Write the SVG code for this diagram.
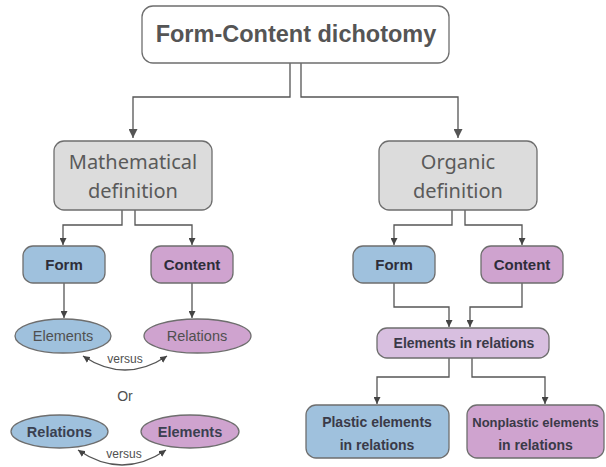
<svg xmlns="http://www.w3.org/2000/svg" width="606" height="467" viewBox="0 0 606 467">
<style>
.bx{stroke:#6e6e6e;stroke-width:1.3}
.white{fill:#ffffff}
.grey{fill:#dcdcdc}
.blue{fill:#9fc1dd}
.pink{fill:#cfa3cf}
.lav{fill:#d8bfe0}
.ln{fill:none;stroke:#555555;stroke-width:1.3}
.t{font-family:"Liberation Sans",Arial,sans-serif;text-anchor:middle}
.b{font-weight:bold}
.def{font-family:"Noto Sans","Open Sans",sans-serif;font-size:20px;fill:#5a5a5a;text-anchor:middle}
.dk{fill:#2e2e3a}
.gr{fill:#505050}
</style>
<defs>
<marker id="ah" viewBox="0 0 10 10" refX="10" refY="5" markerWidth="7" markerHeight="7" markerUnits="userSpaceOnUse" orient="auto-start-reverse">
<path d="M0,0 L10,5 L0,10 z" fill="#444444"/>
</marker>
<marker id="ahb" viewBox="0 0 10 10" refX="10" refY="5" markerWidth="9" markerHeight="9" markerUnits="userSpaceOnUse" orient="auto-start-reverse">
<path d="M0,0 L10,5 L0,10 z" fill="#555555"/>
</marker>
</defs>

<g id="connectors">
<path class="ln" d="M290,63 V97 H133 V138" marker-end="url(#ahb)"/>
<path class="ln" d="M301,63 V97 H458 V138" marker-end="url(#ahb)"/>
<path class="ln" d="M122,210 V225 H63 V245" marker-end="url(#ah)"/>
<path class="ln" d="M135,210 V225 H192 V245" marker-end="url(#ah)"/>
<path class="ln" d="M452,210 V225 H394 V245" marker-end="url(#ah)"/>
<path class="ln" d="M465,210 V225 H522 V245" marker-end="url(#ah)"/>
<path class="ln" d="M64,283 V318" marker-end="url(#ah)"/>
<path class="ln" d="M192,283 V318" marker-end="url(#ah)"/>
<path class="ln" d="M394,283 V307 H449 V327" marker-end="url(#ah)"/>
<path class="ln" d="M522,283 V307 H470 V327" marker-end="url(#ah)"/>
<path class="ln" d="M449,358 V377 H377 V404" marker-end="url(#ah)"/>
<path class="ln" d="M472,358 V377 H545 V404" marker-end="url(#ah)"/>
<path class="ln" d="M83,356 Q125,384 167,356" marker-start="url(#ah)" marker-end="url(#ah)"/>
<path class="ln" d="M78,450 Q122,480 166,450" marker-start="url(#ah)" marker-end="url(#ah)"/>
</g>

<g id="top">
<rect class="bx white" x="142" y="6" width="307" height="57" rx="11"/>
<text class="t b" x="296" y="42" font-size="23.5" fill="#555555">Form-Content dichotomy</text>
</g>

<g id="math-def">
<rect class="bx grey" x="54" y="141" width="158" height="69" rx="10"/>
<text class="def" x="133" y="169">Mathematical</text>
<text class="def" x="133" y="198">definition</text>
</g>

<g id="org-def">
<rect class="bx grey" x="379" y="141" width="158" height="69" rx="10"/>
<text class="def" x="458" y="169">Organic</text>
<text class="def" x="458" y="198">definition</text>
</g>

<g id="form-l">
<rect class="bx blue" x="23" y="246" width="82" height="37" rx="10"/>
<text class="t b dk" x="64" y="270" font-size="15">Form</text>
</g>
<g id="content-l">
<rect class="bx pink" x="151" y="246" width="82" height="37" rx="10"/>
<text class="t b dk" x="192" y="270" font-size="15">Content</text>
</g>
<g id="form-r">
<rect class="bx blue" x="353" y="246" width="82" height="37" rx="10"/>
<text class="t b dk" x="394" y="270" font-size="15">Form</text>
</g>
<g id="content-r">
<rect class="bx pink" x="481" y="246" width="82" height="37" rx="10"/>
<text class="t b dk" x="522" y="270" font-size="15">Content</text>
</g>

<g id="elements-1">
<ellipse class="bx blue" cx="63" cy="336" rx="48" ry="17"/>
<text class="t gr" x="63" y="341" font-size="14.5">Elements</text>
</g>
<g id="relations-1">
<ellipse class="bx pink" cx="197.5" cy="336" rx="53.5" ry="17"/>
<text class="t gr" x="197" y="341" font-size="14.5">Relations</text>
</g>
<text class="t gr" x="125" y="363" font-size="12">versus</text>
<text class="t gr" x="125" y="401" font-size="14">Or</text>
<g id="relations-2">
<ellipse class="bx blue" cx="59.5" cy="431.5" rx="48.5" ry="16.5"/>
<text class="t b" x="59.5" y="436.5" font-size="14.5" fill="#3a4050">Relations</text>
</g>
<g id="elements-2">
<ellipse class="bx pink" cx="190" cy="431.5" rx="49" ry="16.5"/>
<text class="t b" x="190" y="436.5" font-size="14.5" fill="#3a4050">Elements</text>
</g>
<text class="t gr" x="124" y="458" font-size="12">versus</text>

<g id="elements-in-relations">
<rect class="bx lav" x="377" y="328" width="172" height="30" rx="10"/>
<text class="t b" x="464" y="348" font-size="14" fill="#3a3a48">Elements in relations</text>
</g>
<g id="plastic">
<rect class="bx blue" x="306" y="405" width="143" height="53" rx="10"/>
<text class="t b" x="377" y="427" font-size="14" fill="#3a3a48">Plastic elements</text>
<text class="t b" x="377" y="450" font-size="14" fill="#3a3a48">in relations</text>
</g>
<g id="nonplastic">
<rect class="bx pink" x="467" y="405" width="137" height="53" rx="10"/>
<text class="t b" x="535.5" y="427" font-size="13" fill="#3a3a48">Nonplastic elements</text>
<text class="t b" x="535.5" y="450" font-size="14" fill="#3a3a48">in relations</text>
</g>
</svg>
